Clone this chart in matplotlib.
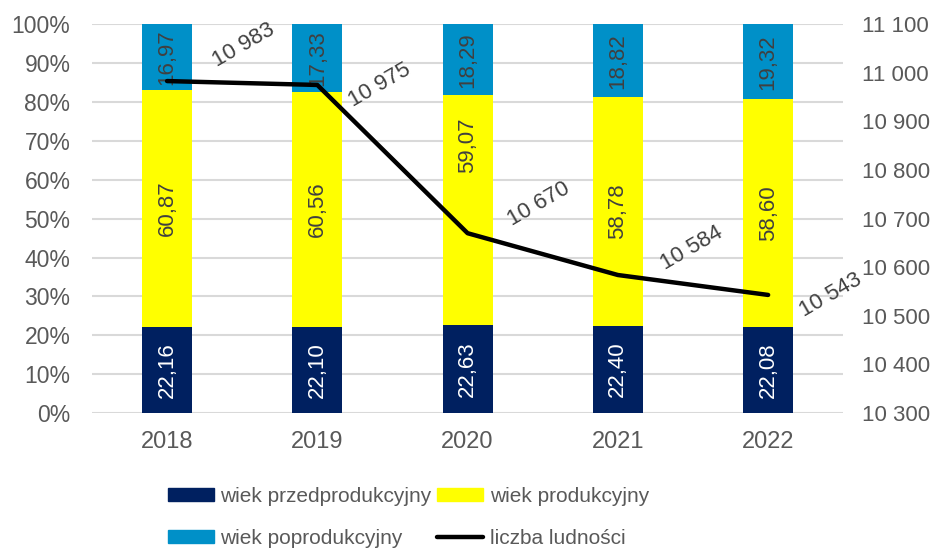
import matplotlib
matplotlib.use("Agg")
import matplotlib.pyplot as plt
import matplotlib.ticker as ticker
from matplotlib.patches import Patch
from matplotlib.lines import Line2D
import numpy as np

plt.rcParams['font.family'] = ['Liberation Sans', 'DejaVu Sans']

# Population structure by economic age group (%) and total population
years = ['2018', '2019', '2020', '2021', '2022']
pre_working = [22.16, 22.10, 22.63, 22.40, 22.08]
working = [60.87, 60.56, 59.07, 58.78, 58.60]
post_working = [16.97, 17.33, 18.29, 18.82, 19.32]
population = [10983, 10975, 10670, 10584, 10543]

# offsets (points) of the population labels from the line vertices
label_offsets = [(55, 26), (45, 0), (51, 21), (53, 19), (45, 0)]
# vertical shift (points) of the working-age labels, to keep them off the line
working_shift = [0, 0, 47, 0, 0]

c_pre = '#002060'
c_work = '#FFFF00'
c_post = '#0090C8'
grey = '#595959'

fig = plt.figure(figsize=(9.38, 5.5), dpi=100)
ax = fig.add_axes([0.098, 0.249, 0.801, 0.707])
ax2 = ax.twinx()

x = np.arange(len(years))
w = 0.333
pre = np.array(pre_working)
wrk = np.array(working)
post = np.array(post_working)

b1 = ax.bar(x, pre, w, color=c_pre, zorder=2)
b2 = ax.bar(x, wrk, w, bottom=pre, color=c_work, zorder=2)
b3 = ax.bar(x, post, w, bottom=pre + wrk, color=c_post, zorder=2)

def fmt(v):
    return f"{v:.2f}".replace('.', ',')

for bars, vals, col, shifts in ((b1, pre, 'white', [0] * 5),
                                (b2, wrk, '#404040', working_shift),
                                (b3, post, '#404040', [0] * 5)):
    for rect, v, dy in zip(bars, vals, shifts):
        cx = rect.get_x() + rect.get_width() / 2
        cy = rect.get_y() + rect.get_height() / 2
        ax.annotate(fmt(v), (cx, cy), xytext=(0, dy), textcoords='offset points',
                    rotation=90, ha='center', va='center',
                    fontsize=16, color=col, zorder=3)

ax.set_xlim(-0.5, len(years) - 0.5)
ax.set_ylim(0, 100)
ax.yaxis.set_major_locator(ticker.MultipleLocator(10))
ax.yaxis.set_major_formatter(ticker.FuncFormatter(lambda v, p: f"{v:.0f}%"))
ax.set_xticks(x)
ax.set_xticklabels(years)
ax.grid(axis='y', color='#D9D9D9', linewidth=1.5, zorder=0)
ax.set_axisbelow(True)

ax2.plot(x, population, color='black', linewidth=3.2, solid_capstyle='round',
         solid_joinstyle='round', zorder=5)
ax2.set_ylim(10300, 11100)
ax2.yaxis.set_major_locator(ticker.MultipleLocator(100))
ax2.yaxis.set_major_formatter(ticker.FuncFormatter(lambda v, p: f"{int(v):,}".replace(',', ' ')))

for xi, v, off in zip(x, population, label_offsets):
    ax2.annotate(f"{v:,}".replace(',', ' '), (xi, v), xytext=off,
                 textcoords='offset points', rotation=30, ha='center', va='center',
                 fontsize=16, color='#404040', zorder=6)

for a in (ax, ax2):
    for s in a.spines.values():
        s.set_visible(False)
    a.tick_params(length=0, labelcolor=grey)
ax.tick_params(axis='y', pad=15.5, labelsize=16.5)
ax.tick_params(axis='x', pad=13, labelsize=17)
ax2.tick_params(axis='y', pad=13.5, labelsize=16)

handles = [Patch(color=c_pre), Patch(color=c_post), Patch(color=c_work),
           Line2D([], [], color='black', linewidth=3.2, solid_capstyle='round')]
labels = ['wiek przedprodukcyjny', 'wiek poprodukcyjny', 'wiek produkcyjny', 'liczba ludności']
fig.legend(handles, labels, ncol=2, loc='upper left', bbox_to_anchor=(0.179, 0.115),
           frameon=False, fontsize=15, labelcolor=grey, handlelength=2.2,
           handleheight=0.58, handletextpad=0.3, columnspacing=0.3, labelspacing=1.1,
           borderpad=0, borderaxespad=0)

fig.savefig('out.png', dpi=100)
